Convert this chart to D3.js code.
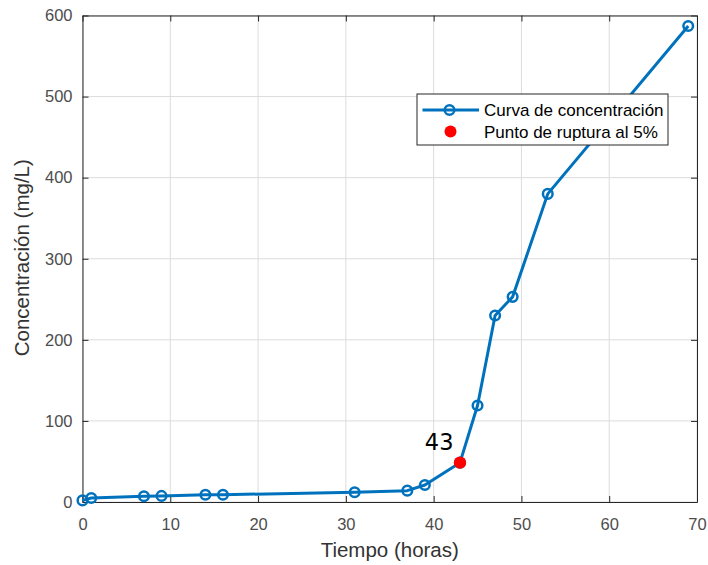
<!DOCTYPE html>
<html><head><meta charset="utf-8">
<script src="https://cdn.jsdelivr.net/npm/d3@7"></script>
<style>body{margin:0;background:#fff}svg{display:block}</style>
</head><body>
<script>
const tiempo = [0, 1, 7, 9, 14, 16, 31, 37, 39, 43, 45, 47, 49, 53, 69];
const concentracion = [2, 5, 7, 7.5, 9, 9, 12, 14, 21, 48.5, 119, 230, 253, 380, 587];
const breakX = [43];
const breakY = [48.5];
const xTicks = [0, 10, 20, 30, 40, 50, 60, 70];
const yTicks = [0, 100, 200, 300, 400, 500, 600];
const seriesNames = ["Curva de concentración", "Punto de ruptura al 5%"];

const W = 708, H = 565;
const m = {l: 82.5, r: 11, t: 15.5, b: 63};
const svg = d3.select("body").append("svg").attr("width", W).attr("height", H);
const x = d3.scaleLinear().domain([0, 70]).range([m.l, W - m.r]);
const y = d3.scaleLinear().domain([0, 600]).range([H - m.b, m.t]);
const blue = "#0072BD", axc = "#262626";
const font = "Liberation Sans, Arial, sans-serif";

// grid
svg.append("g").selectAll("line").data(xTicks).join("line")
  .attr("x1", d => x(d)).attr("x2", d => x(d)).attr("y1", y(0)).attr("y2", y(600))
  .attr("stroke", "#dcdcdc").attr("stroke-width", 1);
svg.append("g").selectAll("line").data(yTicks).join("line")
  .attr("x1", x(0)).attr("x2", x(70)).attr("y1", d => y(d)).attr("y2", d => y(d))
  .attr("stroke", "#dcdcdc").attr("stroke-width", 1);

function styleAxis(g) {
  g.select(".domain").attr("stroke", axc);
  g.selectAll(".tick line").attr("stroke", axc);
  g.selectAll(".tick text").attr("fill", "#4d4d4d").style("font-family", font).style("font-size", "16.5px");
}
svg.append("g").attr("transform", `translate(0,${y(0)})`)
  .call(d3.axisBottom(x).tickValues(xTicks).tickSize(-6).tickPadding(16).tickSizeOuter(0)).call(styleAxis);
svg.append("g").attr("transform", `translate(0,${y(600)})`)
  .call(d3.axisTop(x).tickValues(xTicks).tickSize(-6).tickFormat("").tickSizeOuter(0)).call(styleAxis);
svg.append("g").attr("transform", `translate(${x(0)},0)`)
  .call(d3.axisLeft(y).tickValues(yTicks).tickSize(-6).tickPadding(10).tickSizeOuter(0)).call(styleAxis);
svg.append("g").attr("transform", `translate(${x(70)},0)`)
  .call(d3.axisRight(y).tickValues(yTicks).tickSize(-6).tickFormat("").tickSizeOuter(0)).call(styleAxis);

// series
const pts = tiempo.map((t, i) => [t, concentracion[i]]);
svg.append("path").datum(pts)
  .attr("d", d3.line().x(d => x(d[0])).y(d => y(d[1])))
  .attr("fill", "none").attr("stroke", blue).attr("stroke-width", 3).attr("stroke-linejoin", "round");
svg.append("g").selectAll("circle").data(pts).join("circle")
  .attr("cx", d => x(d[0])).attr("cy", d => y(d[1])).attr("r", 4.8)
  .attr("fill", "none").attr("stroke", blue).attr("stroke-width", 2.5);

// breakthrough point
svg.append("g").selectAll("circle").data(breakX).join("circle")
  .attr("cx", d => x(d)).attr("cy", (d, i) => y(breakY[i])).attr("r", 6.2).attr("fill", "#ff0000");
svg.append("g").selectAll("text").data(breakX).join("text")
  .attr("x", d => x(d) - 6.5).attr("y", (d, i) => y(breakY[i]) - 12.5)
  .attr("text-anchor", "end").attr("fill", "#000")
  .style("font-family", "DejaVu Sans, sans-serif").style("font-size", "22.5px")
  .text(d => d);

// axis labels
svg.append("text").attr("x", x(35)).attr("y", 557).attr("text-anchor", "middle")
  .attr("fill", "#333").style("font-family", font).style("font-size", "20.5px")
  .text("Tiempo (horas)");
svg.append("text").attr("transform", `translate(29,${y(300) - 1}) rotate(-90)`).attr("text-anchor", "middle")
  .attr("fill", "#333").style("font-family", font).style("font-size", "20.5px")
  .text("Concentración (mg/L)");

// legend
const lg = svg.append("g").attr("transform", "translate(417,94)");
lg.append("rect").attr("width", 251).attr("height", 51).attr("fill", "#fff").attr("stroke", axc).attr("stroke-width", 1);
lg.append("line").attr("x1", 5.5).attr("x2", 62).attr("y1", 16).attr("y2", 16).attr("stroke", blue).attr("stroke-width", 3);
lg.append("circle").attr("cx", 32.5).attr("cy", 16).attr("r", 4.8).attr("fill", "none").attr("stroke", blue).attr("stroke-width", 2.5);
lg.append("circle").attr("cx", 33.5).attr("cy", 37.5).attr("r", 6).attr("fill", "#ff0000");
lg.selectAll("text").data(seriesNames).join("text")
  .attr("x", 67).attr("y", (d, i) => 22 + i * 22)
  .attr("fill", "#000").style("font-family", font).style("font-size", "17px")
  .text(d => d);
</script>
</body></html>
